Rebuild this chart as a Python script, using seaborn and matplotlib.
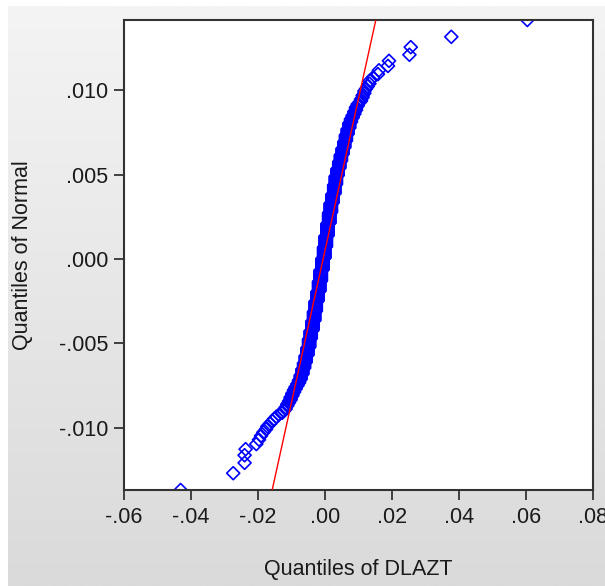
import numpy as np
import pandas as pd
import matplotlib
matplotlib.use("Agg")
import matplotlib.pyplot as plt
import seaborn as sns
from matplotlib.ticker import FixedLocator, FuncFormatter
from statistics import NormalDist

# DLAZT observations: isolated tail values plus the binned core with frequencies
lower_tail = [-0.0431, -0.0274, -0.0240, -0.0240, -0.0237, -0.0205, -0.0197,
              -0.0191, -0.0184, -0.0176, -0.0172, -0.0164, -0.0157, -0.0152,
              -0.0145]
core_values = [-0.01375, -0.01275, -0.01225, -0.01175, -0.01125, -0.01075,
               -0.01025, -0.00975, -0.00925, -0.00875, -0.00825, -0.00775,
               -0.00725, -0.00675, -0.00625, -0.00575, -0.00525, -0.00475,
               -0.00425, -0.00375, -0.00325, -0.00275, -0.00225, -0.00175,
               -0.00125, -0.00075, -0.00025, 0.00025, 0.00075, 0.00125,
               0.00175, 0.00225, 0.00275, 0.00325, 0.00375, 0.00425,
               0.00475, 0.00525, 0.00575, 0.00625, 0.00675, 0.00725,
               0.00775, 0.00825, 0.00875, 0.00925, 0.00975, 0.01025,
               0.01075, 0.01125, 0.01175, 0.01225, 0.01275, 0.01325]
core_counts = [1, 1, 1, 2, 2, 2,
               3, 3, 3, 3, 3, 4,
               6, 8, 9, 12, 15, 19,
               20, 26, 29, 34, 34, 39,
               45, 47, 47, 45, 48, 40,
               33, 28, 27, 23, 17, 15,
               13, 11, 10, 9, 7, 6,
               4, 3, 3, 3, 2, 1,
               2, 2, 2, 1, 1, 1]
upper_tail = [0.01335, 0.0143, 0.0158, 0.0161, 0.0188, 0.0191, 0.0252,
              0.0256, 0.0377, 0.0604]

# fitted normal used for the theoretical quantiles
normal_mean = 0.00024
normal_sd = 0.004605

# reference line
line_intercept = 0.00051
line_slope = 0.90

x_ticks = [-0.06, -0.04, -0.02, 0.00, 0.02, 0.04, 0.06, 0.08]
y_ticks = [-0.010, -0.005, 0.000, 0.005, 0.010]

sample = np.sort(np.concatenate([
    np.array(lower_tail),
    np.repeat(core_values, core_counts),
    np.array(upper_tail),
]))
n = len(sample)
probs = np.arange(1, n + 1) / (n + 1)
std_normal = NormalDist()
normal_q = normal_mean + normal_sd * np.array([std_normal.inv_cdf(p) for p in probs])
df = pd.DataFrame({"DLAZT": sample, "Normal": normal_q})

sns.set_theme(style="ticks")
plt.rcParams["font.family"] = ["Liberation Sans", "DejaVu Sans"]

W, H = 605, 586
fig = plt.figure(figsize=(W / 100, H / 100), dpi=100)
fig.patch.set_facecolor("white")

# grey panel behind the chart, lighter at the top
bg = fig.add_axes([8 / W, 0, 1 - 8 / W, 1 - 6 / H], zorder=-10)
top_c = np.array([0xf4, 0xf4, 0xf4]) / 255
bot_c = np.array([0xda, 0xda, 0xda]) / 255
t = np.linspace(0, 1, 256)[:, None, None]
grad = top_c[None, None, :] * (1 - t) + bot_c[None, None, :] * t
bg.imshow(grad, aspect="auto", extent=[0, 1, 0, 1])
bg.set_axis_off()

ax = fig.add_axes([124 / W, 1 - 490 / H, (593 - 124) / W, (490 - 20) / H])
ax.set_facecolor("white")

sns.scatterplot(data=df, x="DLAZT", y="Normal", marker="D", s=44,
                facecolors="none", edgecolor="#0000ff", linewidth=1.2,
                ax=ax, zorder=2)
ax.axline((0, line_intercept), slope=line_slope, color="#ff0000", lw=1.0,
          zorder=3)

ax.set_xlim(x_ticks[0], x_ticks[-1])
ax.set_ylim(normal_q.min(), normal_q.max())
ax.xaxis.set_major_locator(FixedLocator(x_ticks))
ax.yaxis.set_major_locator(FixedLocator(y_ticks))


def strip_zero(fmt):
    def f(v, pos):
        s = format(v, fmt)
        if s.startswith("-") and float(s) == 0:
            s = s[1:]
        return s.replace("0.", ".", 1)
    return FuncFormatter(f)


ax.xaxis.set_major_formatter(strip_zero(".2f"))
ax.yaxis.set_major_formatter(strip_zero(".3f"))

for sp in ax.spines.values():
    sp.set_visible(True)
    sp.set_linewidth(1.5)
    sp.set_color("#333333")
ax.tick_params(direction="out", length=7.2, width=1.3, color="#333333",
               labelsize=15.5, labelcolor="#1a1a1a")
ax.tick_params(axis="x", pad=5)
ax.tick_params(axis="y", pad=4)

ax.set_xlabel("Quantiles of DLAZT", fontsize=15.5, color="#1a1a1a", labelpad=22)
ax.set_ylabel("Quantiles of Normal", fontsize=15.5, color="#1a1a1a", labelpad=19)

fig.savefig("out.png", dpi=100)
